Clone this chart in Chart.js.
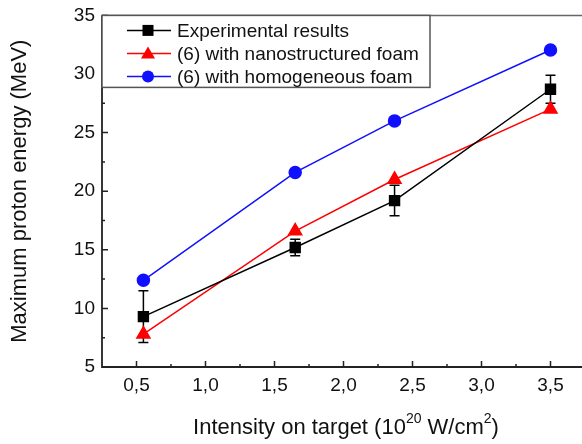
<!DOCTYPE html>
<html>
<head>
<meta charset="utf-8">
<script src="https://cdn.jsdelivr.net/npm/chart.js@4"></script>
<style>
  html, body { margin: 0; padding: 0; background: #fff; overflow: hidden; }
  #wrap { position: relative; width: 582px; height: 444px; overflow: hidden; }
  #chart { position: absolute; left: 0; top: -3px; }
</style>
</head>
<body>
<div id="wrap"><canvas id="chart" width="594" height="447"></canvas></div>
<script>
// data
const intensity = [0.55, 1.65, 2.37, 3.5];
const experimental = [9.3, 15.2, 19.2, 28.7];
const expError = [2.2, 0.7, 1.3, 1.2];
const nanoFoam = [7.8, 16.6, 21.0, 27.0];
const homoFoam = [12.4, 21.6, 26.0, 32.05];
const xTicks = [0.5, 1.0, 1.5, 2.0, 2.5, 3.0, 3.5];
const yTicks = [5, 10, 15, 20, 25, 30, 35];

const seriesNames = ["Experimental results", "(6) with nanostructured foam", "(6) with homogeneous foam"];
const FONT = "Liberation Sans, Arial, sans-serif";

const pts = (ys) => intensity.map((x, i) => ({ x: x, y: ys[i] }));

/* ---- error bars, inward ticks, frame, legend, axis titles ---- */
const decor = {
  id: "decor",
  beforeDatasetsDraw(chart) {
    const ctx = chart.ctx;
    const xs = chart.scales.x, ys = chart.scales.y;
    // error bars for experimental results
    ctx.save();
    ctx.strokeStyle = "#000";
    ctx.lineWidth = 1.5;
    intensity.forEach((x, i) => {
      const px = xs.getPixelForValue(x);
      const top = ys.getPixelForValue(experimental[i] + expError[i]);
      const bot = ys.getPixelForValue(experimental[i] - expError[i]);
      ctx.beginPath();
      ctx.moveTo(px, top); ctx.lineTo(px, bot);
      ctx.moveTo(px - 5, top); ctx.lineTo(px + 5, top);
      ctx.moveTo(px - 5, bot); ctx.lineTo(px + 5, bot);
      ctx.stroke();
    });
    ctx.restore();
  },
  afterDraw(chart) {
    const ctx = chart.ctx;
    const a = chart.chartArea;
    const xs = chart.scales.x, ys = chart.scales.y;
    ctx.save();
    // right frame (faint) and top frame
    ctx.lineWidth = 1.5;
    ctx.strokeStyle = "#ccc";
    ctx.beginPath();
    ctx.moveTo(a.right, a.top); ctx.lineTo(a.right, a.bottom);
    ctx.stroke();
    ctx.strokeStyle = "#666";
    ctx.beginPath();
    ctx.moveTo(a.left, a.top); ctx.lineTo(a.right, a.top);
    ctx.stroke();
    // axes
    ctx.strokeStyle = "#222";
    ctx.lineWidth = 1.8;
    ctx.beginPath();
    ctx.moveTo(a.left, a.top); ctx.lineTo(a.left, a.bottom); ctx.lineTo(a.right, a.bottom);
    ctx.stroke();
    // inward ticks
    ctx.lineWidth = 1.5;
    ctx.beginPath();
    xTicks.forEach((v) => {
      const px = xs.getPixelForValue(v);
      ctx.moveTo(px, a.bottom); ctx.lineTo(px, a.bottom - 6);
      const m = xs.getPixelForValue(v + 0.25);
      ctx.moveTo(m, a.bottom); ctx.lineTo(m, a.bottom - 3);
    });
    yTicks.forEach((v) => {
      const py = ys.getPixelForValue(v);
      ctx.moveTo(a.left, py); ctx.lineTo(a.left + 6, py);
      const m = ys.getPixelForValue(v + 2.5);
      if (v < 35) { ctx.moveTo(a.left, m); ctx.lineTo(a.left + 3, m); }
    });
    ctx.stroke();

    // legend box
    const lx = a.left, ly = a.top, lw = 328, lh = 72;
    ctx.fillStyle = "#fff";
    ctx.fillRect(lx, ly, lw, lh);
    ctx.strokeStyle = "#555";
    ctx.lineWidth = 1.5;
    ctx.strokeRect(lx, ly, lw, lh);
    const rows = [15, 38, 61];
    chart.data.datasets.forEach((ds, i) => {
      const cy = ly + rows[i];
      ctx.strokeStyle = ds.borderColor;
      ctx.lineWidth = 1.5;
      ctx.beginPath();
      ctx.moveTo(lx + 25, cy); ctx.lineTo(lx + 69, cy);
      ctx.stroke();
      const cx = lx + 46;
      ctx.fillStyle = ds.backgroundColor;
      ctx.beginPath();
      if (ds.pointStyle === "rect") {
        ctx.rect(cx - 5.5, cy - 5.5, 11, 11);
      } else if (ds.pointStyle === "triangle") {
        ctx.moveTo(cx, cy - 7); ctx.lineTo(cx + 7, cy + 5); ctx.lineTo(cx - 7, cy + 5); ctx.closePath();
      } else {
        ctx.arc(cx, cy, 6, 0, Math.PI * 2);
      }
      ctx.fill();
      ctx.fillStyle = "#111";
      ctx.font = "19px " + FONT;
      ctx.textAlign = "left";
      ctx.textBaseline = "middle";
      ctx.fillText(ds.label, lx + 75, cy + 1);
    });

    // y title
    ctx.fillStyle = "#111";
    ctx.font = "22px " + FONT;
    ctx.textAlign = "center";
    ctx.textBaseline = "middle";
    ctx.save();
    ctx.translate(20, (a.top + a.bottom) / 2);
    ctx.rotate(-Math.PI / 2);
    ctx.fillText("Maximum proton energy (MeV)", 0, 0);
    ctx.restore();

    // x title with superscripts
    const parts = [
      ["Intensity on target (10", 22, 0],
      ["20", 14, -9],
      [" W/cm", 22, 0],
      ["2", 14, -9],
      [")", 22, 0],
    ];
    let total = 0;
    parts.forEach((p) => { ctx.font = p[1] + "px " + FONT; total += ctx.measureText(p[0]).width; });
    let x = 346 - total / 2;
    const y = 431;
    ctx.textAlign = "left";
    parts.forEach((p) => {
      ctx.font = p[1] + "px " + FONT;
      ctx.fillText(p[0], x, y + p[2]);
      x += ctx.measureText(p[0]).width;
    });
    ctx.restore();
  },
};

new Chart(document.getElementById("chart"), {
  type: "line",
  data: {
    datasets: [
      {
        label: seriesNames[0],
        data: pts(experimental),
        borderColor: "#000",
        backgroundColor: "#000",
        pointStyle: "rect",
        pointRadius: 7,
        borderWidth: 1.5,
        order: 1,
      },
      {
        label: seriesNames[1],
        data: pts(nanoFoam),
        borderColor: "#ff0000",
        backgroundColor: "#ff0000",
        pointStyle: "triangle",
        pointRadius: 7.5,
        borderWidth: 1.5,
        order: 2,
      },
      {
        label: seriesNames[2],
        data: pts(homoFoam),
        borderColor: "#1010ff",
        backgroundColor: "#1010ff",
        pointStyle: "circle",
        pointRadius: 6,
        borderWidth: 1.5,
        order: 3,
      },
    ],
  },
  options: {
    responsive: false,
    animation: false,
    layout: { padding: 0 },
    plugins: { legend: { display: false }, tooltip: { enabled: false } },
    elements: { point: { borderWidth: 0 }, line: { tension: 0 } },
    scales: {
      x: {
        type: "linear",
        min: 0.25,
        max: 3.75,
        afterBuildTicks: (s) => { s.ticks = xTicks.map((v) => ({ value: v })); },
        afterFit: (s) => { s.height = 77; },
        grid: { display: false, drawTicks: false },
        border: { display: false },
        ticks: {
          padding: 7,
          color: "#111",
          font: { size: 19, family: FONT },
          callback: (v) => Number(v).toFixed(1).replace(".", ","),
          maxRotation: 0,
          autoSkip: false,
        },
      },
      y: {
        type: "linear",
        min: 5,
        max: 35,
        afterBuildTicks: (s) => { s.ticks = yTicks.map((v) => ({ value: v })); },
        afterFit: (s) => { s.width = 102; },
        grid: { display: false, drawTicks: false },
        border: { display: false },
        ticks: {
          padding: 7,
          color: "#111",
          font: { size: 19, family: FONT },
        },
      },
    },
  },
  plugins: [decor],
});
</script>
</body>
</html>
